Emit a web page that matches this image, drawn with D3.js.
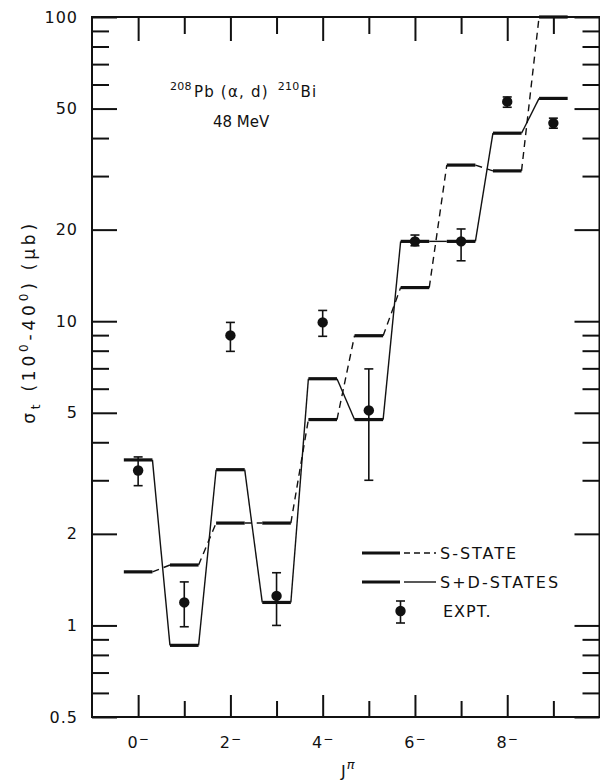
<!DOCTYPE html>
<html>
<head>
<meta charset="utf-8">
<script src="https://cdn.jsdelivr.net/npm/d3@7"></script>
<style>
  body { margin: 0; background: #fff; }
  svg { display: block; font-family: "DejaVu Sans", sans-serif; }
</style>
</head>
<body>
<div id="chart"></div>
<script>
'use strict';

// J^pi states 0- .. 9-
var states = [0, 1, 2, 3, 4, 5, 6, 7, 8, 9];
// theory curves, sigma_t in microbarn
var sState = [1.5, 1.58, 2.17, 2.17, 4.75, 8.96, 12.9, 32.6, 31.2, 100];
var sdStates = [3.5, 0.86, 3.25, 1.19, 6.47, 4.75, 18.3, 18.3, 41.5, 54];
// experiment with error bars
var expt = [3.23, 1.19, 8.98, 1.25, 9.91, 5.09, 18.3, 18.3, 52.7, 44.8];
var exptHi = [3.58, 1.39, 9.91, 1.49, 10.85, 6.97, 19.2, 20.1, 54.6, 46.5];
var exptLo = [2.88, 0.99, 7.96, 1.0, 8.92, 3.0, 17.7, 15.8, 50.5, 43.1];
// ticks
var yMajor = [0.5, 1, 2, 5, 10, 20, 50, 100];
var yMinor = [0.6, 0.7, 0.8, 0.9, 3, 4, 6, 7, 8, 9, 30, 40, 60, 70, 80, 90];
var xLabeled = [0, 2, 4, 6, 8];
var xOdd = [1, 3, 5, 7, 9];

var width = 600, height = 780;
var plotL = 92, plotR = 599.5, plotT = 17, plotB = 717;
var half = 0.31;
var ink = '#111';

var svg = d3.select('#chart').append('svg')
  .attr('width', width)
  .attr('height', height);

var x = d3.scaleLinear().domain([-1, 10]).range([plotL, plotR]);
var y = d3.scaleLog().domain([0.5, 100]).range([plotB, plotT]);

function styleAxis(g) {
  g.select('.domain').remove();
  g.selectAll('.tick line').attr('stroke', ink).attr('stroke-width', 2);
  g.selectAll('.tick text').attr('fill', ink).attr('font-size', 16)
    .attr('letter-spacing', 1)
    .attr('font-family', '"DejaVu Sans", sans-serif');
}

// left axis
svg.append('g').attr('transform', 'translate(' + plotL + ',0)')
  .call(d3.axisLeft(y).tickValues(yMajor).tickSize(-25).tickPadding(14).tickFormat(d3.format('~g')))
  .call(styleAxis);
svg.append('g').attr('transform', 'translate(' + plotL + ',0)')
  .call(d3.axisLeft(y).tickValues(yMinor).tickSize(-17).tickFormat(''))
  .call(styleAxis);
// right axis
svg.append('g').attr('transform', 'translate(' + plotR + ',0)')
  .call(d3.axisRight(y).tickValues(yMajor).tickSize(-25).tickFormat(''))
  .call(styleAxis);
svg.append('g').attr('transform', 'translate(' + plotR + ',0)')
  .call(d3.axisRight(y).tickValues(yMinor).tickSize(-17).tickFormat(''))
  .call(styleAxis);
// bottom axis
svg.append('g').attr('transform', 'translate(0,' + plotB + ')')
  .call(d3.axisBottom(x).tickValues(xLabeled).tickSize(-22).tickPadding(20).tickFormat(function(d) { return d; }))
  .call(styleAxis)
  .selectAll('.tick text')
  .append('tspan').attr('dy', '-0.45em').attr('font-size', 12).text('\u2212');
svg.append('g').attr('transform', 'translate(0,' + plotB + ')')
  .call(d3.axisBottom(x).tickValues(xOdd).tickSize(-16).tickFormat(''))
  .call(styleAxis);
// top axis
svg.append('g').attr('transform', 'translate(0,' + plotT + ')')
  .call(d3.axisTop(x).tickValues(xLabeled).tickSize(-24).tickFormat(''))
  .call(styleAxis);
svg.append('g').attr('transform', 'translate(0,' + plotT + ')')
  .call(d3.axisTop(x).tickValues(xOdd).tickSize(-17).tickFormat(''))
  .call(styleAxis);

// frame
svg.append('rect')
  .attr('x', plotL).attr('y', plotT)
  .attr('width', plotR - plotL).attr('height', plotB - plotT)
  .attr('fill', 'none').attr('stroke', ink).attr('stroke-width', 2);

// step curves: thick level bars joined by thin connectors
function drawCurve(vals, dash) {
  var g = svg.append('g');
  g.selectAll('line.bar')
    .data(vals)
    .enter().append('line')
    .attr('class', 'bar')
    .attr('x1', function(d, i) { return x(states[i] - half); })
    .attr('x2', function(d, i) { return x(states[i] + half); })
    .attr('y1', function(d) { return y(d); })
    .attr('y2', function(d) { return y(d); })
    .attr('stroke', ink).attr('stroke-width', 3.2);
  g.selectAll('line.link')
    .data(vals.slice(0, -1))
    .enter().append('line')
    .attr('class', 'link')
    .attr('x1', function(d, i) { return x(states[i] + half); })
    .attr('x2', function(d, i) { return x(states[i + 1] - half); })
    .attr('y1', function(d) { return y(d); })
    .attr('y2', function(d, i) { return y(vals[i + 1]); })
    .attr('stroke', ink).attr('stroke-width', 1.4)
    .attr('stroke-dasharray', dash);
}
drawCurve(sState, '7,5');
drawCurve(sdStates, null);

// experimental points
var pts = svg.append('g');
states.forEach(function(j, i) {
  var cx = x(j);
  pts.append('line').attr('x1', cx).attr('x2', cx)
    .attr('y1', y(exptLo[i])).attr('y2', y(exptHi[i]))
    .attr('stroke', ink).attr('stroke-width', 1.6);
  [exptLo[i], exptHi[i]].forEach(function(v) {
    pts.append('line').attr('x1', cx - 4.5).attr('x2', cx + 4.5)
      .attr('y1', y(v)).attr('y2', y(v))
      .attr('stroke', ink).attr('stroke-width', 1.6);
  });
  pts.append('circle').attr('cx', cx).attr('cy', y(expt[i])).attr('r', 5.2).attr('fill', ink);
});

// legend
var lg = svg.append('g').attr('font-size', 16).attr('letter-spacing', 2).attr('fill', ink);
var rows = [
  { y: 553, label: 'S-STATE', dash: '6,4' },
  { y: 582, label: 'S+D-STATES', dash: null }
];
rows.forEach(function(r) {
  lg.append('line').attr('x1', 362).attr('x2', 400).attr('y1', r.y).attr('y2', r.y)
    .attr('stroke', ink).attr('stroke-width', 3.2);
  lg.append('line').attr('x1', 404).attr('x2', 436).attr('y1', r.y).attr('y2', r.y)
    .attr('stroke', ink).attr('stroke-width', 1.4).attr('stroke-dasharray', r.dash);
  lg.append('text').attr('x', 440).attr('y', r.y + 6).text(r.label);
});
lg.append('line').attr('x1', 400.5).attr('x2', 400.5).attr('y1', 601).attr('y2', 623)
  .attr('stroke', ink).attr('stroke-width', 1.6);
[601, 623].forEach(function(v) {
  lg.append('line').attr('x1', 396).attr('x2', 405).attr('y1', v).attr('y2', v)
    .attr('stroke', ink).attr('stroke-width', 1.6);
});
lg.append('circle').attr('cx', 400.5).attr('cy', 611).attr('r', 5.2).attr('fill', ink);
lg.append('text').attr('x', 443).attr('y', 617).attr('letter-spacing', 1).text('EXPT.');

// reaction label
var t1 = svg.append('text').attr('x', 170).attr('y', 97).attr('font-size', 15)
  .attr('letter-spacing', 1.2).attr('fill', ink);
t1.append('tspan').attr('font-size', 11).attr('letter-spacing', 0.3).attr('dy', -7).text('208');
t1.append('tspan').attr('dy', 7).attr('dx', 2).text('Pb (\u03b1, d)');
t1.append('tspan').attr('font-size', 11).attr('letter-spacing', 0.3).attr('dx', 9).attr('dy', -7).text('210');
t1.append('tspan').attr('dy', 7).attr('dx', 1).text('Bi');
svg.append('text').attr('x', 213).attr('y', 127).attr('font-size', 15).attr('fill', ink).text('48 MeV');

// axis titles
var yt = svg.append('text')
  .attr('transform', 'translate(35,322) rotate(-90)')
  .attr('text-anchor', 'middle').attr('font-size', 17).attr('letter-spacing', 3.8).attr('fill', ink);
yt.append('tspan').text('\u03c3');
yt.append('tspan').attr('font-size', 12).attr('dy', 5).text('t');
yt.append('tspan').attr('dy', -5).text(' (10');
yt.append('tspan').attr('font-size', 12).attr('dy', -7).text('0');
yt.append('tspan').attr('dy', 7).text('-40');
yt.append('tspan').attr('font-size', 12).attr('dy', -7).text('0');
yt.append('tspan').attr('dy', 7).text(') (\u03bcb)');

var xt = svg.append('text').attr('x', 341).attr('y', 777).attr('font-size', 16).attr('fill', ink);
xt.append('tspan').text('J');
xt.append('tspan').attr('font-size', 13).attr('font-style', 'italic').attr('dy', -8).attr('dx', 1).text('\u03c0');
</script>
</body>
</html>
